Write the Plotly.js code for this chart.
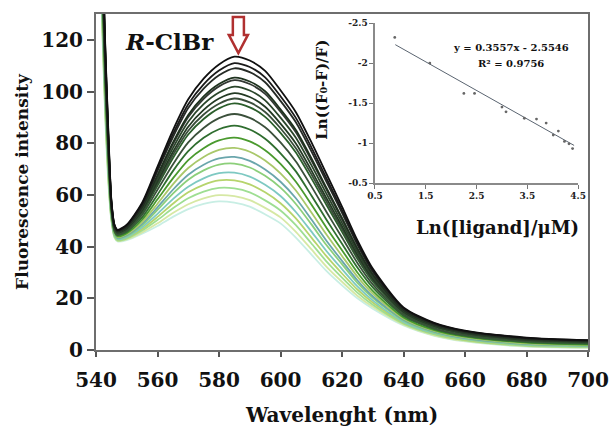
<!DOCTYPE html>
<html>
<head>
<meta charset="utf-8">
<script src="https://cdn.plot.ly/plotly-3.0.1.min.js"></script>
<style>html,body{margin:0;padding:0;background:#fff;}#chart{width:610px;height:430px;}</style>
</head>
<body>
<div id="chart"></div>
<script>
// Wavelength grid (nm)
const wavelength = [540,542,543,544,545,546,547,550,555,560,565,570,575,580,585,590,595,600,605,610,615,620,625,630,640,650,660,680,700];

// Fluorescence intensity spectra, from highest (no ligand) to lowest
const I01 = [220,160,118,85,58,48.5,46.5,48.5,57,71,85,97,105,110.5,113.5,112,108,100.5,92,80.5,68,55.5,42.5,31.5,16.5,10.5,7.5,4.8,3.8];
const I02 = [219,158,117,84,57.6,48.3,46.3,48.2,56.5,70,83.5,95.1,102.8,108.1,111,109.5,105.5,98.2,89.8,78.5,66.3,54.1,41.5,30.8,16.2,10.3,7.3,4.6,3.7];
const I03 = [218,157,116,83,57.4,48.1,46.1,48,56,69.2,82.3,93.6,101.1,106.3,109,107.5,103.6,96.4,88.1,77,65,53.1,40.7,30.3,15.9,10.1,7.2,4.5,3.6];
const I04 = [217,155,114,82,56.9,47.8,45.9,47.6,55.3,67.7,80.2,90.9,98.1,102.9,105.4,103.9,100.1,93.1,85.1,74.3,62.6,51.1,39.3,29.3,15.5,9.8,6.9,4.3,3.4];
const I05 = [217,154,113.5,81.8,56.7,47.7,45.8,47.5,55.1,67.3,79.6,90.2,97.2,102,104.4,102.9,99.1,92.2,84.2,73.5,62,50.6,38.9,29,15.4,9.7,6.8,4.2,3.3];
const I06 = [216,153,112.3,80.9,56.4,47.5,45.6,47.3,54.5,66.3,78.1,88.3,95.1,99.6,101.9,100.4,96.6,89.9,82.1,71.6,60.3,49.2,37.9,28.3,15.1,9.5,6.6,4.1,3.2];
const I07 = [215,151,111,80,56,47.3,45.4,47,54,65.3,76.6,86.4,92.9,97.3,99.4,97.9,94.1,87.6,79.9,69.6,58.6,47.9,36.9,27.6,14.8,9.3,6.5,3.9,3.1];
const I08 = [214,150,110,79.3,55.7,47.1,45.2,46.8,53.6,64.4,75.4,84.8,91.1,95.3,97.3,95.8,92.1,85.8,78.1,68.1,57.3,46.8,36.1,27.1,14.5,9.1,6.3,3.8,3];
const I09 = [213.6,148.8,109,78.6,55.4,46.9,45.1,46.6,53.1,63.6,74.2,83.4,89.4,93.5,95.4,93.9,90.2,84,76.4,66.5,56,45.7,35.3,26.5,14.3,8.9,6.2,3.7,2.8];
const I10 = [212,146,107,77.1,54.9,46.5,44.7,46.1,52.3,62,71.8,80.3,85.9,89.7,91.3,89.8,86.2,80.3,72.9,63.4,53.3,43.5,33.7,25.4,13.7,8.5,5.8,3.4,2.6];
const I11 = [210.5,143.4,104.8,75.5,54.2,46.1,44.4,45.7,51.3,60.1,69.2,76.9,82.1,85.4,86.8,85.3,81.7,76.1,69.1,59.9,50.3,41.1,31.9,24.2,13.2,8.1,5.5,3.1,2.4];
const I12 = [208.9,140.6,102.5,73.9,53.6,45.7,44,45.2,50.4,58.3,66.4,73.5,78.1,81.1,82.2,80.7,77.3,72,65.1,56.4,47.2,38.6,30,22.9,12.6,7.7,5.2,2.9,2.1];
const I13 = [207.5,138.1,100.5,72.5,53,45.4,43.7,44.8,49.5,56.6,64.1,70.4,74.7,77.4,78.2,76.7,73.3,68.3,61.7,53.3,44.6,36.4,28.4,21.8,12.1,7.4,4.9,2.6,1.9];
const I14 = [206.3,135.9,98.8,71.3,52.5,45.1,43.4,44.4,48.8,55.2,62,67.8,71.7,74.1,74.7,73.2,69.8,65.1,58.7,50.6,42.2,34.5,27,20.8,11.7,7.1,4.6,2.4,1.7];
const I15 = [205.4,134.4,97.5,70.4,52.1,44.8,43.2,44.1,48.2,54.2,60.5,65.9,69.5,71.7,72.1,70.6,67.4,62.8,56.5,48.7,40.5,33.2,26,20.2,11.4,6.8,4.4,2.2,1.6];
const I16 = [204.1,132.2,95.7,69.1,51.6,44.5,42.9,43.7,47.5,52.7,58.4,63.2,66.4,68.4,68.6,67.1,63.9,59.6,53.4,45.9,38.2,31.3,24.6,19.2,10.9,6.5,4.2,2,1.4];
const I17 = [203,130.3,94.3,68,51.2,44.3,42.7,43.4,46.8,51.5,56.6,61,63.9,65.6,65.6,64.1,61,56.8,50.9,43.6,36.2,29.6,23.4,18.4,10.6,6.3,3.9,1.8,1.3];
const I18 = [202,128.4,92.7,67,50.8,44,42.4,43.1,46.2,50.3,54.8,58.7,61.3,62.7,62.5,61,57.9,54,48.3,41.3,34.2,28,22.2,17.5,10.2,6,3.7,1.6,1.1];
const I19 = [200.9,126.6,91.3,65.9,50.4,43.7,42.2,42.8,45.5,49,53,56.4,58.7,59.9,59.5,58,55,51.3,45.7,39,32.2,26.4,21,16.7,9.8,5.7,3.5,1.5,0.9];
const I20 = [200,125,90,65,50,43.5,42,42.5,45,48,51.5,54.5,56.5,57.5,57,55.5,52.5,49,43.5,37,30.5,25,20,16,9.5,5.5,3.3,1.3,0.8];

const spectra = [I01,I02,I03,I04,I05,I06,I07,I08,I09,I10,I11,I12,I13,I14,I15,I16,I17,I18,I19,I20];
const spectraColors = ['#101010','#1a1a1a','#262b26','#1e321e','#333833','#2a452a','#243a24','#3a4d3a','#2b5e2b','#3b503b',
                       '#2f6e2f','#4a9a2e','#a9c86a','#6aa6ac','#8ccf7a','#7ec9c2','#b6d46c','#9ede92','#d6e8a4','#c8eee4'];

// Inset: Ln([ligand]/uM) vs Ln((F0-F)/F)
const lnLigand = [0.89,1.58,2.25,2.46,3.0,3.08,3.44,3.68,3.87,4.01,4.11,4.23,4.32,4.39];
const lnRatio  = [-2.32,-2.0,-1.62,-1.62,-1.45,-1.39,-1.31,-1.30,-1.25,-1.10,-1.15,-1.02,-0.99,-0.93];
const fitX = [0.9,4.42];
const fitY = [-2.23,-0.97];

const xTicks = [540,560,580,600,620,640,660,680,700];
const yTicks = [0,20,40,60,80,100,120];
const insetXTicks = [0.5,1.5,2.5,3.5,4.5];
const insetYTicks = [-2.5,-2,-1.5,-1,-0.5];
const insetYText = ['-2.5','-2','-1.5','-1','-0.5'];

const F = 'DejaVu Serif, Liberation Serif, serif';

const traces = [];
for (let k = spectra.length - 1; k >= 0; k--) {
  traces.push({
    x: wavelength, y: spectra[k], type: 'scatter', mode: 'lines',
    line: {color: spectraColors[k], width: 1.8, shape: 'spline', smoothing: 0.7},
    hoverinfo: 'skip', showlegend: false, xaxis: 'x', yaxis: 'y'
  });
}
traces.push({
  x: fitX, y: fitY, type: 'scatter', mode: 'lines',
  line: {color: '#5a6470', width: 1}, showlegend: false, xaxis: 'x2', yaxis: 'y2'
});
traces.push({
  x: lnLigand, y: lnRatio, type: 'scatter', mode: 'markers',
  marker: {color: '#666', size: 2.8}, showlegend: false, xaxis: 'x2', yaxis: 'y2'
});

const layout = {
  width: 610, height: 430,
  margin: {l: 96, r: 22, t: 14, b: 80},
  paper_bgcolor: '#fff', plot_bgcolor: 'rgba(0,0,0,0)',
  font: {family: F, color: '#111'},
  xaxis: {
    range: [540, 700], tickvals: xTicks, showgrid: false, zeroline: false,
    showline: true, mirror: true, linecolor: '#6e6e6e', linewidth: 2,
    ticks: 'outside', ticklen: 5, tickwidth: 2, tickcolor: '#555', ticklabelstandoff: 6,
    tickfont: {family: F, size: 20, weight: 'bold', color: '#111'},
    title: {text: 'Wavelenght (nm)', font: {family: F, size: 20, weight: 'bold', color: '#111'}, standoff: 17}
  },
  yaxis: {
    range: [0, 130], tickvals: yTicks, showgrid: false, zeroline: false,
    showline: true, mirror: true, linecolor: '#6e6e6e', linewidth: 2,
    ticks: 'outside', ticklen: 7, tickwidth: 2, tickcolor: '#555',
    tickfont: {family: F, size: 20, weight: 'bold', color: '#111'},
    title: {text: 'Fluorescence intensity', font: {family: F, size: 17, weight: 'bold', color: '#111'}, standoff: 8}
  },
  xaxis2: {
    domain: [0.567, 0.980], anchor: 'y2', range: [0.5, 4.5], tickvals: insetXTicks,
    showgrid: false, zeroline: false, showline: true, linecolor: '#8a8a8a', linewidth: 1.5,
    ticks: 'outside', ticklen: 4, tickwidth: 1, tickcolor: '#777',
    tickfont: {family: F, size: 9, weight: 'bold', color: '#222'}
  },
  yaxis2: {
    domain: [0.497, 0.973], anchor: 'x2', range: [-0.5, -2.5], tickvals: insetYTicks, ticktext: insetYText,
    showgrid: false, zeroline: false, showline: true, linecolor: '#8a8a8a', linewidth: 1.5,
    ticks: 'outside', ticklen: 4, tickwidth: 1, tickcolor: '#777',
    tickfont: {family: F, size: 9, weight: 'bold', color: '#222'}
  },
  shapes: [{
    type: 'path', xref: 'x', yref: 'y',
    path: 'M 584.5 128.8 L 588.1 128.8 L 588.1 121.9 L 589.4 121.9 L 586.3 114.9 L 583.2 121.9 L 584.5 121.9 Z',
    line: {color: '#b03030', width: 2.5}, fillcolor: '#ffffff'
  }],
  annotations: [
    {xref: 'paper', yref: 'paper', x: 0.150, y: 0.917, showarrow: false, xanchor: 'center', yanchor: 'middle',
     text: '<i>R</i>-ClBr', font: {family: F, size: 23, weight: 'bold', color: '#111'}},
    {xref: 'paper', yref: 'paper', x: 0.843, y: 0.899, showarrow: false, xanchor: 'center', yanchor: 'middle',
     text: 'y = 0.3557x - 2.5546', font: {family: F, size: 10, weight: 'bold', color: '#111'}},
    {xref: 'paper', yref: 'paper', x: 0.843, y: 0.854, showarrow: false, xanchor: 'center', yanchor: 'middle',
     text: 'R² = 0.9756', font: {family: F, size: 10, weight: 'bold', color: '#111'}},
    {xref: 'paper', yref: 'paper', x: 0.817, y: 0.366, showarrow: false, xanchor: 'center', yanchor: 'middle',
     text: 'Ln([ligand]/μM)', font: {family: F, size: 18, weight: 'bold', color: '#111'}},
    {xref: 'paper', yref: 'paper', x: 0.459, y: 0.774, showarrow: false, xanchor: 'center', yanchor: 'middle', textangle: -90,
     text: 'Ln((F₀-F)/F)', font: {family: F, size: 15, weight: 'bold', color: '#111'}}
  ]
};

Plotly.newPlot('chart', traces, layout, {staticPlot: true, displayModeBar: false});
</script>
</body>
</html>
